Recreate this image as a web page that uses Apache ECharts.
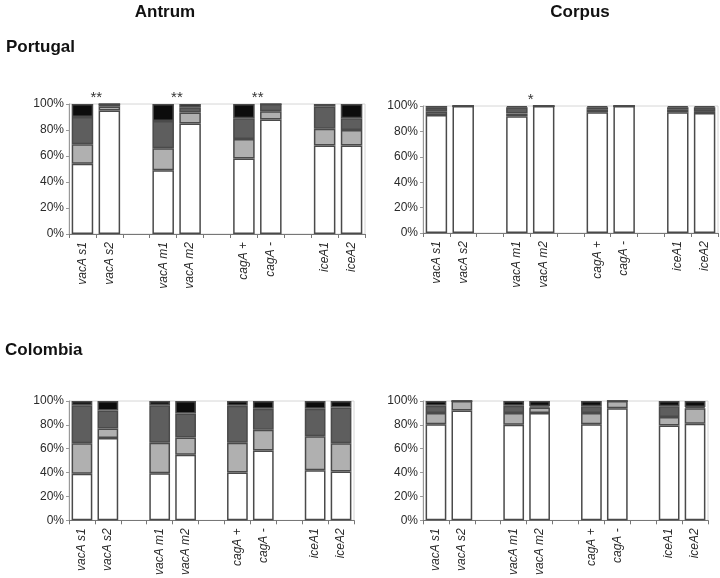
<!DOCTYPE html>
<html><head><meta charset="utf-8">
<script src="https://cdn.jsdelivr.net/npm/echarts@6/dist/echarts.min.js"></script>
<style>html,body{margin:0;padding:0;background:#fff}#c{width:720px;height:578px}</style>
</head><body><div id="c"></div>
<script>
// Genotype categories (pairs separated by gaps on the axis)
const genotypes = ['vacA s1','vacA s2','vacA m1','vacA m2','cagA +','cagA -','iceA1','iceA2'];
const yTicks = [0,20,40,60,80,100];

// Portugal – Antrum (% white, light gray, dark gray, black)
const ptAntrumWhite = [54, 95, 49, 85, 58, 88, 68, 68];
const ptAntrumLight = [15, 3, 17, 8.5, 15, 6.5, 13, 12];
const ptAntrumDark  = [21, 2, 21, 4, 16, 5.5, 17, 9];
const ptAntrumBlack = [10, 0, 13, 2.5, 11, 0, 2, 11];
const ptAntrumSig   = ['**', '', '**', '', '**', '', '', ''];

// Portugal – Corpus
const ptCorpusWhite = [93, 100, 92, 100, 95, 100, 95, 94.5];
const ptCorpusLight = [2.5, 0, 2, 0, 2, 0, 2, 1.5];
const ptCorpusDark  = [3, 0, 5, 0, 2, 0, 2, 3];
const ptCorpusBlack = [1.5, 0, 1, 0, 1, 0, 1, 1];
const ptCorpusSig   = ['', '', '*', '', '', '', '', ''];

// Colombia – Antrum
const coAntrumWhite = [39, 69, 39.5, 55, 40, 58.5, 42, 41];
const coAntrumLight = [25.5, 8, 25.5, 14.5, 25, 17.5, 28.5, 23.5];
const coAntrumDark  = [32, 15, 31.5, 20, 31, 17.5, 23, 30];
const coAntrumBlack = [3.5, 8, 3.5, 10.5, 4, 6.5, 6.5, 5.5];
const coAntrumSig   = ['', '', '', '', '', '', '', ''];

// Colombia – Corpus
const coCorpusWhite = [80.5, 92, 80, 90, 80.5, 94, 79.5, 81];
const coCorpusLight = [9.5, 8, 10, 4.5, 9.5, 6, 7, 13];
const coCorpusDark  = [6, 0, 6, 1, 5.5, 0, 9, 1];
const coCorpusBlack = [4, 0, 4, 4.5, 4.5, 0, 4.5, 5];
const coCorpusSig   = ['', '', '', '', '', '', '', ''];

const segColors = ['#ffffff', '#b0b0b0', '#5e5e5e', '#0c0c0c'];
const FONT = 'Liberation Sans, Arial, sans-serif';

// axis categories with blank gap slots between pairs
const axisCats = [];
const slotOf = [];
genotypes.forEach((g, i) => {
  if (i > 0 && i % 2 === 0) axisCats.push('');
  slotOf.push(axisCats.length);
  axisCats.push(g);
});
function toSlots(arr, sig) {
  const out = axisCats.map(() => '-');
  arr.forEach((v, i) => {
    if (sig && sig[i]) {
      out[slotOf[i]] = {
        value: v,
        label: {
          show: true, formatter: sig[i], position: ['100%', 0], offset: [3, 1],
          align: 'center', verticalAlign: 'bottom', fontSize: 15, fontFamily: FONT,
          color: '#333', fontWeight: 'normal'
        }
      };
    } else out[slotOf[i]] = v;
  });
  return out;
}

const panels = [
  { grid: {left: 69, top: 104, width: 296, height: 130}, d: [ptAntrumWhite, ptAntrumLight, ptAntrumDark, ptAntrumBlack], sig: ptAntrumSig },
  { grid: {left: 423, top: 106, width: 295, height: 127}, d: [ptCorpusWhite, ptCorpusLight, ptCorpusDark, ptCorpusBlack], sig: ptCorpusSig },
  { grid: {left: 69, top: 401, width: 285, height: 122}, d: [coAntrumWhite, coAntrumLight, coAntrumDark, coAntrumBlack], sig: coAntrumSig },
  { grid: {left: 423, top: 401, width: 285, height: 123}, d: [coCorpusWhite, coCorpusLight, coCorpusDark, coCorpusBlack], sig: coCorpusSig }
];

const titleStyle = {fontFamily: FONT, fontSize: 17, fontWeight: 'bold', color: '#111'};
const option = {
  animation: false,
  backgroundColor: '#fff',
  title: [
    { text: 'Antrum', left: 160, top: -1, textAlign: 'center', textStyle: titleStyle },
    { text: 'Corpus', left: 575, top: -1, textAlign: 'center', textStyle: titleStyle },
    { text: 'Portugal', left: 1, top: 34, textStyle: titleStyle },
    { text: 'Colombia', left: 0, top: 337, textStyle: titleStyle }
  ],
  grid: [], xAxis: [], yAxis: [], series: []
};

panels.forEach((p, k) => {
  option.grid.push(Object.assign({show: true, borderColor: '#d6d6d6', borderWidth: 1, backgroundColor: 'transparent'}, p.grid));
  option.xAxis.push({
    type: 'category', gridIndex: k, data: axisCats,
    axisLine: {lineStyle: {color: '#777', width: 1}},
    axisTick: {show: true, length: 4, lineStyle: {color: '#777'}},
    axisLabel: {interval: 0, rotate: 90, fontStyle: 'italic', fontFamily: FONT, fontSize: 12, color: '#2a2a2a', margin: 8}
  });
  option.yAxis.push({
    type: 'value', gridIndex: k, min: 0, max: 100, interval: 20,
    axisLine: {show: true, lineStyle: {color: '#999', width: 1}},
    axisTick: {show: true, length: 3, lineStyle: {color: '#999'}},
    splitLine: {show: false},
    axisLabel: {formatter: '{value}%', fontFamily: FONT, fontSize: 12, color: '#2a2a2a', margin: 5}
  });
  p.d.forEach((arr, s) => {
    option.series.push({
      type: 'bar', xAxisIndex: k, yAxisIndex: k, stack: 'st' + k,
      barWidth: '80%',
      data: toSlots(arr, s === 3 ? p.sig : null),
      itemStyle: {color: segColors[s], borderColor: '#4a4a4a', borderWidth: 1.5},
      emphasis: {disabled: true}
    });
  });
});

const chart = echarts.init(document.getElementById('c'), null, {renderer: 'canvas'});
chart.setOption(option);
</script>
</body></html>
